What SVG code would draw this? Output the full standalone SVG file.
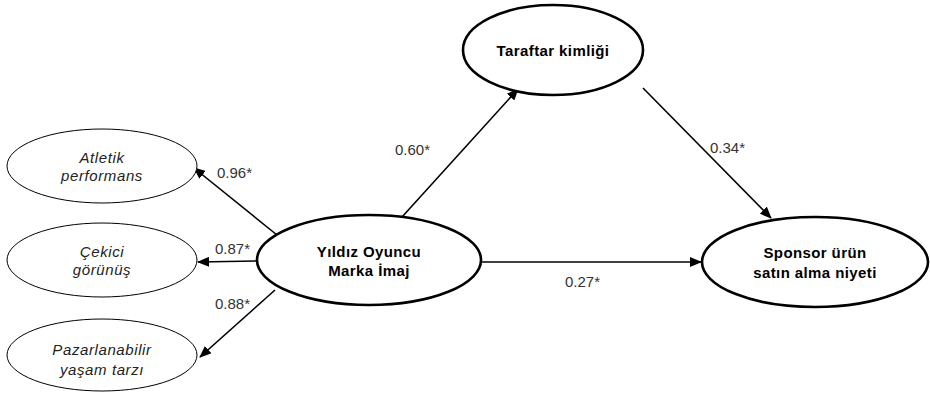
<svg xmlns="http://www.w3.org/2000/svg" width="930" height="395" viewBox="0 0 930 395">
<style>
.big{fill:#fff;stroke:#000;stroke-width:2.6}
.small{fill:#fff;stroke:#000;stroke-width:1}
.bt{font-family:"Liberation Sans",Arial,sans-serif;font-size:15px;font-weight:bold;letter-spacing:0.4px;text-anchor:middle;fill:#000}
.it{font-family:"Liberation Sans",Arial,sans-serif;font-size:15px;font-style:italic;letter-spacing:0.6px;text-anchor:middle;fill:#222}
.lb{font-family:"Liberation Sans",Arial,sans-serif;font-size:15px;fill:#333}
.c{stroke:#000;stroke-width:1.6;fill:none;marker-end:url(#ah)}
</style>
<defs>
<marker id="ah" markerWidth="12" markerHeight="10" refX="11" refY="5" orient="auto" markerUnits="userSpaceOnUse">
<path d="M0,0 L12,5 L0,10 Z" fill="#000"/>
</marker>
</defs>
<g id="connectors">
<line class="c" x1="277" y1="235" x2="194" y2="168"/>
<line class="c" x1="258" y1="261" x2="198" y2="262"/>
<line class="c" x1="275" y1="290" x2="200" y2="357"/>
<line class="c" x1="402" y1="217" x2="518" y2="89"/>
<line class="c" x1="643" y1="88" x2="771" y2="218"/>
<line class="c" x1="481" y1="262" x2="701" y2="262"/>
<text class="lb" x="217" y="178">0.96*</text>
<text class="lb" x="215" y="254">0.87*</text>
<text class="lb" x="215" y="309">0.88*</text>
<text class="lb" x="395" y="155">0.60*</text>
<text class="lb" x="565" y="287">0.27*</text>
<text class="lb" x="710" y="153">0.34*</text>
</g>
<g id="taraftar">
<ellipse class="big" cx="553" cy="50" rx="90" ry="45"/>
<text class="bt" x="553" y="56">Taraftar kimliği</text>
</g>
<g id="yildiz">
<ellipse class="big" cx="369" cy="260" rx="112" ry="45"/>
<text class="bt" x="369" y="257">Yıldız Oyuncu</text>
<text class="bt" x="369" y="276">Marka İmaj</text>
</g>
<g id="sponsor">
<ellipse class="big" cx="815" cy="262" rx="113" ry="45"/>
<text class="bt" x="815" y="258">Sponsor ürün</text>
<text class="bt" x="815" y="278">satın alma niyeti</text>
</g>
<g id="atletik">
<ellipse class="small" cx="102" cy="166" rx="95" ry="37"/>
<text class="it" x="102" y="163">Atletik</text>
<text class="it" x="102" y="181">performans</text>
</g>
<g id="cekici">
<ellipse class="small" cx="102" cy="260" rx="95" ry="37"/>
<text class="it" x="102" y="257">Çekici</text>
<text class="it" x="102" y="275">görünüş</text>
</g>
<g id="pazarlanabilir">
<ellipse class="small" cx="102" cy="355" rx="95" ry="36"/>
<text class="it" x="102" y="355">Pazarlanabilir</text>
<text class="it" x="102" y="375">yaşam tarzı</text>
</g>
</svg>
